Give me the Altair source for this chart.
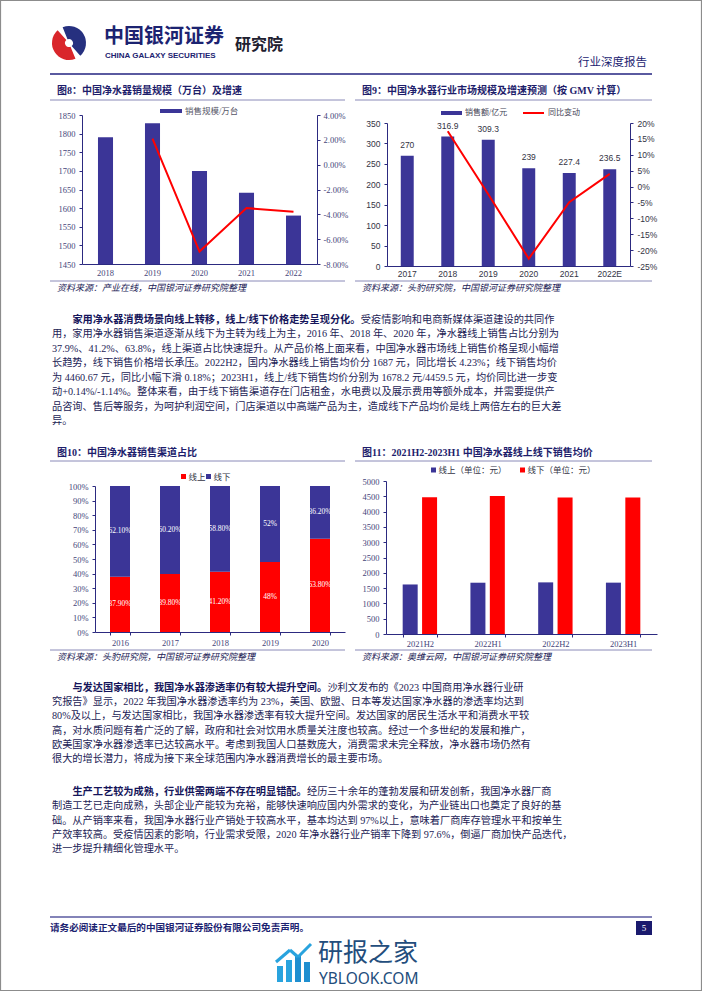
import altair as alt
import pandas as pd

# ======================= DATA =======================
c8_years = ["2018", "2019", "2020", "2021", "2022"]
c8_sales = [1790, 1828, 1700, 1641, 1580]
c8_growth_years = ["2019", "2020", "2021", "2022"]
c8_growth = [2.1, -7.0, -3.5, -3.8]
c8_left_ticks = [1450, 1500, 1550, 1600, 1650, 1700, 1750, 1800, 1850]
c8_right_ticks = [-8, -6, -4, -2, 0, 2, 4]

c9_years = ["2017", "2018", "2019", "2020", "2021", "2022E"]
c9_gmv = [270, 316.9, 309.3, 239, 227.4, 236.5]
c9_gmv_labels = ["270", "316.9", "309.3", "239", "227.4", "236.5"]
c9_yoy_years = ["2018", "2019", "2020", "2021", "2022E"]
c9_yoy = [17.4, -2.4, -22.7, -4.9, 4.0]
c9_left_ticks = [0, 50, 100, 150, 200, 250, 300, 350]
c9_right_ticks = [-25, -20, -15, -10, -5, 0, 5, 10, 15, 20]

c10_years = ["2016", "2017", "2018", "2019", "2020"]
c10_online = [37.9, 39.8, 41.2, 48, 63.8]
c10_offline = [62.1, 60.2, 58.8, 52, 36.2]
c10_online_labels = ["37.90%", "39.80%", "41.20%", "48%", "63.80%"]
c10_offline_labels = ["62.10%", "60.20%", "58.80%", "52%", "36.20%"]
c10_ticks = [0, 10, 20, 30, 40, 50, 60, 70, 80, 90, 100]

c11_periods = ["2021H2", "2022H1", "2022H2", "2023H1"]
c11_online = [1618.5, 1675.9, 1687.0, 1678.2]
c11_offline = [4468.7, 4510.9, 4460.67, 4459.5]
c11_ticks = [0, 500, 1000, 1500, 2000, 2500, 3000, 3500, 4000, 4500, 5000]

# ----- texts -----
t8_title = "图8：中国净水器销量规模（万台）及增速"
t9_title = "图9：中国净水器行业市场规模及增速预测（按 GMV 计算）"
t10_title = "图10：中国净水器销售渠道占比"
t11_title = "图11：2021H2-2023H1 中国净水器线上线下销售均价"
s8 = "资料来源：产业在线，中国银河证券研究院整理"
s9 = "资料来源：头豹研究院，中国银河证券研究院整理"
s10 = "资料来源：头豹研究院，中国银河证券研究院整理"
s11 = "资料来源：奥维云网，中国银河证券研究院整理"

p1_lead = "家用净水器消费场景向线上转移，线上/线下价格走势呈现分化。"
p1_first = "受疫情影响和电商新媒体渠道建设的共同作"
p1_lines = [
    "用，家用净水器销售渠道逐渐从线下为主转为线上为主，2016 年、2018 年、2020 年，净水器线上销售占比分别为",
    "37.9%、41.2%、63.8%，线上渠道占比快速提升。从产品价格上面来看，中国净水器市场线上销售价格呈现小幅增",
    "长趋势，线下销售价格增长承压。2022H2，国内净水器线上销售均价分 1687 元，同比增长 4.23%；线下销售均价",
    "为 4460.67 元，同比小幅下滑 0.18%；2023H1，线上/线下销售均价分别为 1678.2 元/4459.5 元，均价同比进一步变",
    "动+0.14%/-1.14%。整体来看，由于线下销售渠道存在门店租金，水电费以及展示费用等额外成本，并需要提供产",
    "品咨询、售后等服务，为呵护利润空间，门店渠道以中高端产品为主，造成线下产品均价是线上两倍左右的巨大差",
    "异。",
]
p2_lead = "与发达国家相比，我国净水器渗透率仍有较大提升空间。"
p2_first = "沙利文发布的《2023 中国商用净水器行业研"
p2_lines = [
    "究报告》显示，2022 年我国净水器渗透率约为 23%，美国、欧盟、日本等发达国家净水器的渗透率均达到",
    "80%及以上，与发达国家相比，我国净水器渗透率有较大提升空间。发达国家的居民生活水平和消费水平较",
    "高，对水质问题有着广泛的了解，政府和社会对饮用水质量关注度也较高。经过一个多世纪的发展和推广，",
    "欧美国家净水器渗透率已达较高水平。考虑到我国人口基数庞大，消费需求未完全释放，净水器市场仍然有",
    "很大的增长潜力，将成为接下来全球范围内净水器消费增长的最主要市场。",
]
p3_lead = "生产工艺较为成熟，行业供需两端不存在明显错配。"
p3_first = "经历三十余年的蓬勃发展和研发创新，我国净水器厂商"
p3_lines = [
    "制造工艺已走向成熟，头部企业产能较为充裕，能够快速响应国内外需求的变化，为产业链出口也奠定了良好的基",
    "础。从产销率来看，我国净水器行业产销处于较高水平，基本均达到 97%以上，意味着厂商库存管理水平和按单生",
    "产效率较高。受疫情因素的影响，行业需求受限，2020 年净水器行业产销率下降到 97.6%，倒逼厂商加快产品迭代，",
    "进一步提升精细化管理水平。",
]

# ======================= STYLE =======================
W, H = 702, 991
NAVY_BAR = "#3b3597"
RED = "#ff0000"
AXIS_C = "#2c2a80"
LBL_C = "#45457a"
TITLE_C = "#1d1d6b"
BODY_C = "#222255"
LEAD_C = "#15155a"
RULE_C = "#8a8ab8"
HDR_C = "#1c2371"
SERIF = "Liberation Serif, Noto Sans CJK SC"
SANS = "Liberation Sans, Noto Sans CJK SC"
HEI = "Noto Sans CJK SC"

one = pd.DataFrame({"k": [0]})


def txt(x, y, s, size=10, color=BODY_C, font=SERIF, weight="normal",
        align="left", style="normal"):
    return alt.Chart(one).mark_text(
        text=s, fontSize=size, color=color, font=font, fontWeight=weight,
        align=align, fontStyle=style, baseline="middle"
    ).encode(x=alt.value(x), y=alt.value(y))


def hrule(x1, x2, y, color=RULE_C, w=1.0):
    return alt.Chart(one).mark_rule(color=color, strokeWidth=w).encode(
        x=alt.value(x1), x2=alt.value(x2), y=alt.value(y))


def box(x1, y1, x2, y2, fill, **kw):
    return alt.Chart(one).mark_rect(fill=fill, **kw).encode(
        x=alt.value(x1), x2=alt.value(x2), y=alt.value(y1), y2=alt.value(y2))


def band(domain, lo, hi, pi, po):
    return alt.Scale(type="band", domain=domain, range=[lo, hi],
                     paddingInner=pi, paddingOuter=po)


def lin(v0, v1, bottom, top):
    return alt.Scale(domain=[v0, v1], range=[bottom, top], nice=False, zero=False)


def axis(orient, pos, values=None, font=SERIF, size=8.5, color=LBL_C,
         expr=None, ticks=True, tick_band=None, pad=3, fmt=None):
    if orient == "left":
        off = -pos
    elif orient == "right":
        off = pos - W
    else:
        off = pos - H
    kw = dict(orient=orient, offset=off, title=None, grid=False,
              labelFont=font, labelFontSize=size, labelColor=color,
              domainColor=AXIS_C, tickColor=AXIS_C, ticks=ticks, tickSize=3,
              labelPadding=pad, labelOverlap=False, labelAngle=0)
    if values is not None:
        kw["values"] = values
    if expr is not None:
        kw["labelExpr"] = expr
    if tick_band is not None:
        kw["tickBand"] = tick_band
    if fmt is not None:
        kw["format"] = fmt
    return alt.Axis(**kw)


def tw(s, fs):
    w = 0.0
    for ch in s:
        o = ord(ch)
        if o >= 0x2E80 or ch in "，。；：、（）《》":
            w += 1.0
        elif ch.isdigit():
            w += 0.5
        elif ch == " ":
            w += 0.25
        elif ch in ".,":
            w += 0.25
        elif ch == "%":
            w += 0.833
        elif ch == "/":
            w += 0.278
        elif ch in "+-":
            w += 0.45
        elif ch.isupper():
            w += 0.68
        else:
            w += 0.5
    return w * fs


def paragraph(lead, first, lines, y_first, y_last, x0=52, fs=10.2):
    indent = x0 + 2 * fs
    out = [txt(indent, y_first, lead, size=fs, weight="bold", color=LEAD_C, font=SERIF),
           txt(indent + tw(lead, fs), y_first, first, size=fs, font=SERIF)]
    n = len(lines) + 1
    df = pd.DataFrame({"i": list(range(1, n)), "t": lines})
    out.append(alt.Chart(df).mark_text(
        align="left", baseline="middle", font=SERIF, fontSize=fs, color=BODY_C
    ).encode(
        x=alt.value(x0),
        y=alt.Y("i:Q", scale=alt.Scale(domain=[0, n - 1], range=[y_first, y_last]), axis=None),
        text="t:N"))
    return out


pct2 = "(datum.value < 0 ? '-' : '') + format(abs(datum.value), '.2f') + '%'"
pct0 = "(datum.value < 0 ? '-' : '') + format(abs(datum.value), 'd') + '%'"

L = []

# ======================= PAGE FRAME / HEADER =======================
L.append(box(0.5, 0.5, 701.5, 990.5, "white", fillOpacity=0, stroke="#8c8c8c", strokeWidth=1.2))
L.append(alt.Chart(one).mark_arc(radius=17, radius2=4, theta=5.9, theta2=8.7, color="#26307f")
         .encode(x=alt.value(69), y=alt.value(43)))
L.append(alt.Chart(one).mark_arc(radius=17, radius2=4, theta=2.75, theta2=5.55, color="#d9262b")
         .encode(x=alt.value(69), y=alt.value(43)))
L.append(txt(104, 37, "中国银河证券", size=20, color=HDR_C, font=HEI, weight="bold"))
L.append(txt(105, 56, "CHINA GALAXY SECURITIES", size=8, color=HDR_C, font="Liberation Sans", weight="bold"))
L.append(txt(235, 45, "研究院", size=16, color="#202030", font=HEI, weight="bold"))
L.append(txt(647, 63, "行业深度报告", size=11.5, color=HDR_C, font=HEI, align="right"))
L.append(hrule(50, 652, 74, color="#5a5aa0", w=2))

# ======================= CHART 8 =======================
L.append(txt(57, 91, t8_title, size=10, color=TITLE_C, font=SERIF, weight="bold"))
L.append(hrule(50, 345, 100))
df8 = pd.DataFrame({"year": c8_years, "sales": c8_sales})
L.append(alt.Chart(df8).mark_bar(color=NAVY_BAR).encode(
    x=alt.X("year:N", scale=band(c8_years, 82, 317, 0.68, 0.34),
            axis=axis("bottom", 264, ticks=False, pad=4.5)),
    y=alt.Y("sales:Q", scale=lin(1450, 1850, 264, 115),
            axis=axis("left", 82, values=c8_left_ticks, pad=4, fmt="d")),
    y2=alt.Y2Datum(1450)))
df8g = pd.DataFrame({"year": c8_growth_years, "g": c8_growth})
L.append(alt.Chart(df8g).mark_line(color=RED, strokeWidth=2).encode(
    x=alt.X("year:N", scale=band(c8_years, 82, 317, 0.68, 0.34), axis=None, bandPosition=0.5),
    y=alt.Y("g:Q", scale=lin(-8, 4, 264, 115),
            axis=axis("right", 317, values=c8_right_ticks, expr=pct2, pad=3))))
L.append(box(160, 109, 182, 113, NAVY_BAR))
L.append(txt(185, 111, "销售规模/万台", size=8.5, color="#555566"))
L.append(hrule(50, 345, 281))
L.append(txt(57, 288, s8, size=9, color=BODY_C, style="italic"))

# ======================= CHART 9 =======================
L.append(txt(362, 91, t9_title, size=10, color=TITLE_C, font=SERIF, weight="bold"))
L.append(hrule(355, 652, 100))
df9 = pd.DataFrame({"year": c9_years, "gmv": c9_gmv, "lab": c9_gmv_labels})
L.append(alt.Chart(df9).mark_bar(color=NAVY_BAR).encode(
    x=alt.X("year:N", scale=band(c9_years, 387, 630, 0.68, 0.34),
            axis=axis("bottom", 266, font=SANS, ticks=False, pad=3.5, color="#333344")),
    y=alt.Y("gmv:Q", scale=lin(0, 350, 266, 123),
            axis=axis("left", 387, values=c9_left_ticks, font=SANS, pad=4, color="#333344", fmt="d")),
    y2=alt.Y2Datum(0)))
L.append(alt.Chart(df9).mark_text(dy=-11, font=SANS, fontSize=8.5, color="#333344").encode(
    x=alt.X("year:N", scale=band(c9_years, 387, 630, 0.68, 0.34), axis=None, bandPosition=0.5),
    y=alt.Y("gmv:Q", scale=lin(0, 350, 266, 123), axis=None),
    text="lab:N"))
df9g = pd.DataFrame({"year": c9_yoy_years, "g": c9_yoy})
L.append(alt.Chart(df9g).mark_line(color=RED, strokeWidth=2).encode(
    x=alt.X("year:N", scale=band(c9_years, 387, 630, 0.68, 0.34), axis=None, bandPosition=0.5),
    y=alt.Y("g:Q", scale=lin(-25, 20, 266, 123),
            axis=axis("right", 630, values=c9_right_ticks, expr=pct0, font=SANS, pad=4, color="#333344"))))
L.append(box(441, 111, 462, 115, NAVY_BAR))
L.append(txt(465, 113, "销售额/亿元", size=8, color="#444455"))
L.append(hrule(523, 544, 113, color=RED, w=2))
L.append(txt(548, 113, "同比变动", size=8, color="#444455"))
L.append(hrule(355, 652, 281))
L.append(txt(362, 288, s9, size=9, color=BODY_C, style="italic"))

# ======================= PARAGRAPH 1 =======================
L.extend(paragraph(p1_lead, p1_first, p1_lines, 320, 421))

# ======================= CHART 10 =======================
L.append(txt(57, 453, t10_title, size=10, color=TITLE_C, font=SERIF, weight="bold"))
L.append(hrule(50, 345, 461))
df10 = pd.DataFrame({"year": c10_years, "on": c10_online, "off": c10_offline,
                     "onl": c10_online_labels, "offl": c10_offline_labels})
X10 = band(c10_years, 95, 345, 0.6, 0.3)
Y10 = lin(0, 100, 632, 486)
L.append(alt.Chart(df10).mark_bar(color=RED).encode(
    x=alt.X("year:N", scale=X10, axis=axis("bottom", 632, tick_band="extent", pad=3)),
    y=alt.Y("on:Q", scale=Y10, axis=axis("left", 95, values=c10_ticks, expr="datum.value + '%'", pad=4)),
    y2=alt.Y2Datum(0)))
L.append(alt.Chart(df10).transform_calculate(top="datum.on + datum.off").mark_bar(color=NAVY_BAR).encode(
    x=alt.X("year:N", scale=X10, axis=None),
    y=alt.Y("on:Q", scale=Y10, axis=None),
    y2=alt.Y2("top:Q")))
L.append(alt.Chart(df10).transform_calculate(mid="datum.on / 2").mark_text(
    font=SERIF, fontSize=7.5, color="white").encode(
    x=alt.X("year:N", scale=X10, axis=None, bandPosition=0.5),
    y=alt.Y("mid:Q", scale=Y10, axis=None), text="onl:N"))
L.append(alt.Chart(df10).transform_calculate(mid="datum.on + datum.off / 2").mark_text(
    font=SERIF, fontSize=7.5, color="white").encode(
    x=alt.X("year:N", scale=X10, axis=None, bandPosition=0.5),
    y=alt.Y("mid:Q", scale=Y10, axis=None), text="offl:N"))
L.append(box(181, 474, 186, 479, RED))
L.append(txt(188.5, 476.5, "线上", size=8.5, color="#333344"))
L.append(box(206, 474, 211, 479, NAVY_BAR))
L.append(txt(213.5, 476.5, "线下", size=8.5, color="#333344"))
L.append(hrule(50, 345, 650))
L.append(txt(57, 657, s10, size=9, color=BODY_C, style="italic"))

# ======================= CHART 11 =======================
L.append(txt(362, 453, t11_title, size=10, color=TITLE_C, font=SERIF, weight="bold"))
L.append(hrule(355, 652, 461))
df11 = pd.DataFrame({"p": c11_periods, "on": c11_online, "off": c11_offline})
Y11 = lin(0, 5000, 634, 481)
SH = 9.7
PI11, PO11 = 0.7786, 0.3893
L.append(alt.Chart(df11).mark_bar(opacity=0).encode(
    x=alt.X("p:N", scale=band(c11_periods, 386, 657, 0.5, 0.25),
            axis=axis("bottom", 634, tick_band="extent", pad=2.5)),
    y=alt.Y("off:Q", scale=Y11, axis=axis("left", 386, values=c11_ticks, pad=4, fmt="d")),
    y2=alt.Y2Datum(0)))
L.append(alt.Chart(df11).mark_bar(color=NAVY_BAR).encode(
    x=alt.X("p:N", scale=band(c11_periods, 386 - SH, 657 - SH, PI11, PO11), axis=None),
    y=alt.Y("on:Q", scale=Y11, axis=None), y2=alt.Y2Datum(0)))
L.append(alt.Chart(df11).mark_bar(color=RED).encode(
    x=alt.X("p:N", scale=band(c11_periods, 386 + SH, 657 + SH, PI11, PO11), axis=None),
    y=alt.Y("off:Q", scale=Y11, axis=None), y2=alt.Y2Datum(0)))
L.append(box(431, 467.5, 436, 472.5, NAVY_BAR))
L.append(txt(438.5, 470, "线上（单位：元）", size=8.5, color="#333344"))
L.append(box(520, 467.5, 525, 472.5, RED))
L.append(txt(527.5, 470, "线下（单位：元）", size=8.5, color="#333344"))
L.append(hrule(355, 652, 650))
L.append(txt(362, 657, s11, size=9, color=BODY_C, style="italic"))

# ======================= PARAGRAPHS 2 & 3 =======================
L.extend(paragraph(p2_lead, p2_first, p2_lines, 688, 759))
L.extend(paragraph(p3_lead, p3_first, p3_lines, 792, 849))

# ======================= FOOTER =======================
L.append(hrule(50, 652, 917, color="#5a5aa0", w=1.5))
L.append(txt(50, 928, "请务必阅读正文最后的中国银河证券股份有限公司免责声明。", size=9.6, color=HDR_C, weight="bold"))
L.append(box(636, 921, 652, 935, "#1a1a6e"))
L.append(txt(644, 928, "5", size=9, color="white", align="center"))
# watermark
L.append(box(277, 966, 283, 982, "#29a3de"))
L.append(box(286, 960, 292, 982, "#29a3de"))
L.append(box(295, 955, 301, 982, "#1f8fd0"))
L.append(box(304, 962, 310, 982, "#1f8fd0"))
L.append(alt.Chart(one).mark_rule(color="#29a3de", strokeWidth=3).encode(
    x=alt.value(276), y=alt.value(962), x2=alt.value(290), y2=alt.value(950)))
L.append(alt.Chart(one).mark_rule(color="#29a3de", strokeWidth=3).encode(
    x=alt.value(290), y=alt.value(950), x2=alt.value(298), y2=alt.value(957)))
L.append(alt.Chart(one).mark_rule(color="#29a3de", strokeWidth=3).encode(
    x=alt.value(298), y=alt.value(957), x2=alt.value(311), y2=alt.value(944)))
L.append(txt(318, 953, "研报之家", size=25, color="#234d7c", font=HEI))
L.append(txt(319, 978.5, "YBLOOK.COM", size=15.5, color="#234d7c", font="Noto Sans"))

chart = alt.layer(*L).resolve_scale(x="independent", y="independent").properties(
    width=W, height=H, autosize=alt.AutoSizeParams(type="none"), padding=0,
    background="white"
).configure_view(strokeWidth=0)

chart.save("out.html", embed_options={"renderer": "svg", "actions": False})
